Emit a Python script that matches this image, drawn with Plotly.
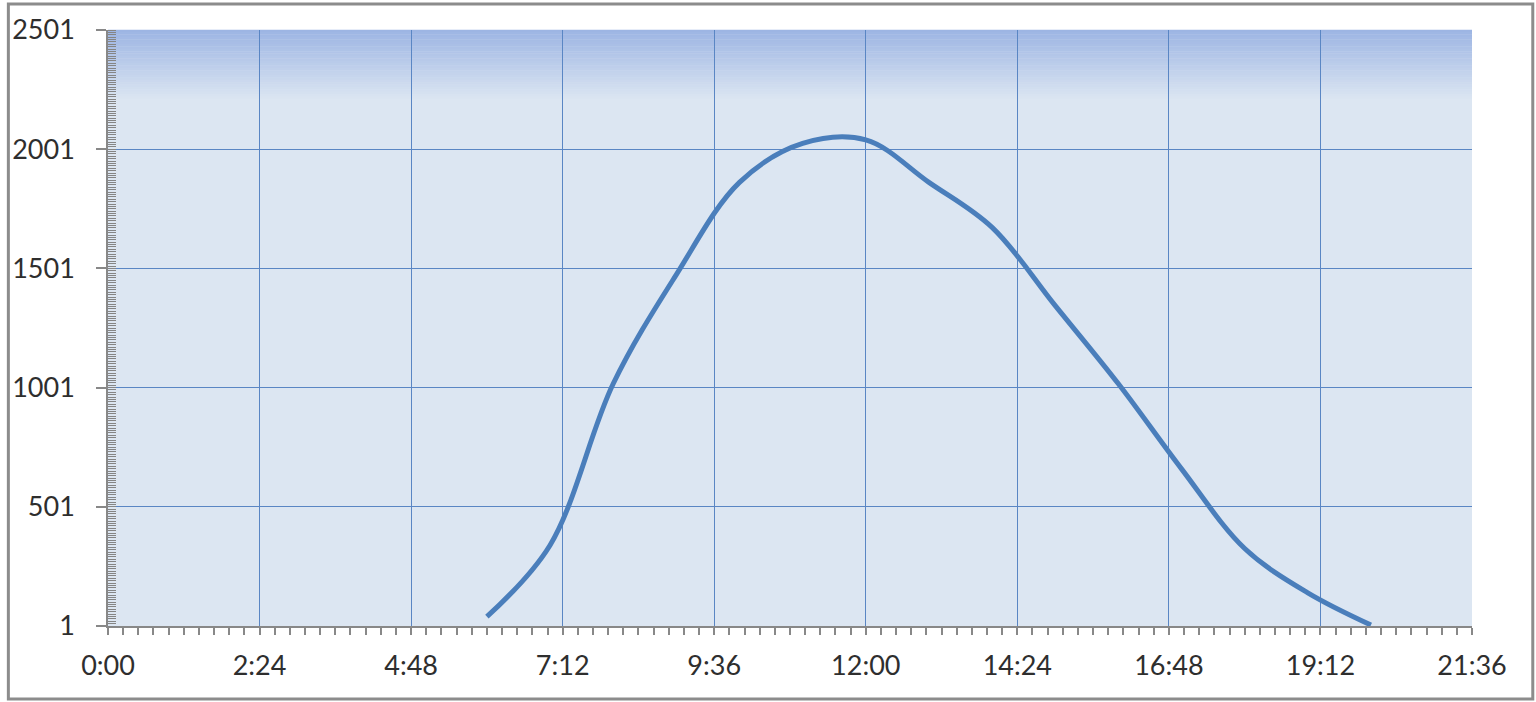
import plotly.graph_objects as go

# ---- data ----
times = ["6:00", "7:00", "8:00", "9:00", "10:00", "11:00", "12:00", "13:00",
         "14:00", "15:00", "16:00", "17:00", "18:00", "19:00", "20:00"]
values = [40, 340, 1017, 1475, 1862, 2025, 2040, 1862, 1673, 1345, 1017, 660, 326, 140, 5]
x_tick_labels = ["0:00", "2:24", "4:48", "7:12", "9:36", "12:00", "14:24", "16:48", "19:12", "21:36"]
y_tick_vals = [1, 501, 1001, 1501, 2001, 2501]


def to_min(s):
    h, m = s.split(":")
    return int(h) * 60 + int(m)


x_min = [to_min(t) for t in times]
x_tick_vals = [to_min(t) for t in x_tick_labels]

W, H = 1536, 702
L, R, T, B = 103, 64, 29, 76
pw, ph = W - L - R, H - T - B

FONT = "Lato"
TXT = "#2e2e2e"
GRID = "#5a86c4"
TICK = "#888888"

fig = go.Figure()
fig.add_trace(go.Scatter(
    x=x_min, y=values, mode="lines",
    line=dict(color="#4a7ebb", width=5, shape="spline", smoothing=1.0),
    showlegend=False, hoverinfo="skip",
))

# gradient bands on top of plot area
shapes = []
top_c = (157, 181, 227)
bot_c = (220, 230, 242)
n = 30
band = 0.12
for i in range(n):
    f = i / (n - 1)
    c = tuple(int(round(top_c[k] + (bot_c[k] - top_c[k]) * f)) for k in range(3))
    y1 = 1 - band * i / n
    y0 = 1 - band * (i + 1) / n
    shapes.append(dict(type="rect", xref="paper", yref="paper", x0=0, x1=1, y0=y0, y1=y1 + 0.0005,
                       fillcolor="rgb(%d,%d,%d)" % c, line=dict(width=0), layer="below"))

# outer frame
shapes.append(dict(type="rect", xref="paper", yref="paper",
                   x0=(3 - L) / pw, x1=(1533 - L) / pw,
                   y0=(T + ph - 699) / ph, y1=(T + ph - 3) / ph,
                   line=dict(color="#8c8c8c", width=3), fillcolor="rgba(0,0,0,0)", layer="above"))

fig.update_layout(
    width=W, height=H,
    margin=dict(l=L, r=R, t=T, b=B, pad=0),
    paper_bgcolor="white",
    plot_bgcolor="#dce6f2",
    shapes=shapes,
    font=dict(family=FONT, size=27, color=TXT),
    xaxis=dict(
        range=[0, 1296], tickmode="array", tickvals=x_tick_vals, ticktext=x_tick_labels,
        showgrid=True, gridcolor=GRID, gridwidth=1.2,
        showline=True, linecolor=TICK, linewidth=1.5,
        ticks="outside", ticklen=7, tickcolor=TICK, tickwidth=1.5,
        ticklabelstandoff=8,
        minor=dict(tick0=0, dtick=14.4, ticks="outside", ticklen=7, tickcolor=TICK, tickwidth=1.5, showgrid=False),
        zeroline=False, fixedrange=True,
        tickfont=dict(family=FONT, size=27, color=TXT),
    ),
    xaxis2=dict(
        range=[0, 1296], overlaying="x", side="bottom", anchor="y",
        tickmode="array", tickvals=x_tick_vals, showticklabels=False,
        showgrid=False, showline=False, zeroline=False,
        ticks="inside", ticklen=6, tickcolor=TICK, tickwidth=1.5,
        minor=dict(tick0=0, dtick=14.4, ticks="inside", ticklen=6, tickcolor=TICK, tickwidth=1.5, showgrid=False),
    ),
    yaxis=dict(
        range=[1, 2501], tickmode="array", tickvals=y_tick_vals,
        showgrid=True, gridcolor=GRID, gridwidth=1.2,
        showline=True, linecolor=TICK, linewidth=1.5,
        ticks="outside", ticklen=10, tickcolor=TICK, tickwidth=1.5,
        ticklabelstandoff=16,
        minor=dict(tick0=1, dtick=10, ticks="inside", ticklen=8, tickcolor="#858585", tickwidth=1.2, showgrid=False),
        zeroline=False, fixedrange=True,
        tickfont=dict(family=FONT, size=27, color=TXT),
    ),
)

fig.write_html("out.html", config={"displayModeBar": False},
               post_script="document.body.style.margin='0';document.body.style.overflow='hidden';")
